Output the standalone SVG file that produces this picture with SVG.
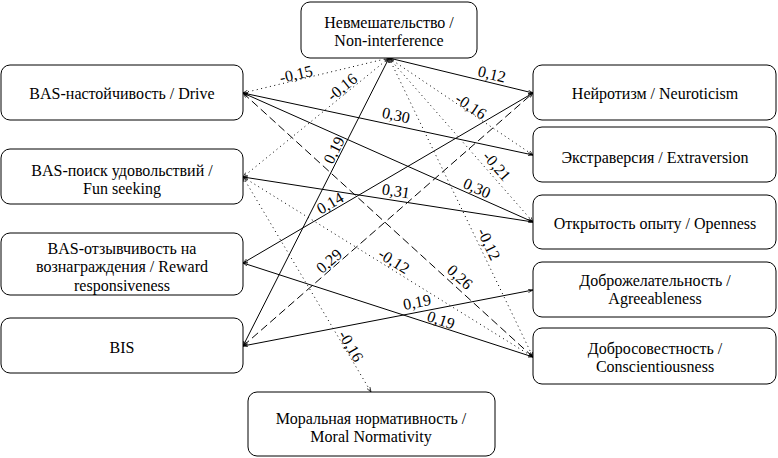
<svg xmlns="http://www.w3.org/2000/svg" width="778" height="458" viewBox="0 0 778 458">
<style>
.box{fill:#fff;stroke:#000;stroke-width:1}
.t{font-family:"Liberation Serif","Times New Roman","DejaVu Serif",serif;font-size:16px;fill:#000;text-anchor:middle}
.e{fill:none;stroke:#000;stroke-width:1;marker-start:url(#ah);marker-end:url(#ah)}
.dot{stroke-dasharray:1 3.5}
.dash{stroke-dasharray:8 4}
.lbl{font-family:"Liberation Serif","Times New Roman","DejaVu Serif",serif;font-size:16px;fill:#000;text-anchor:middle}
</style>
<defs>
<marker id="ah" viewBox="0 0 5 4" refX="5" refY="2" markerWidth="5" markerHeight="4" markerUnits="userSpaceOnUse" orient="auto-start-reverse">
<path d="M0,0.3 L5,2 L0,3.7" fill="none" stroke="#000" stroke-width="0.7"/>
</marker>
</defs>
<rect width="778" height="458" fill="#fff"/>
<g id="connectors">
<line class="e dot" x1="389" y1="58" x2="243" y2="93"/>
<line class="e dot" x1="389" y1="58" x2="243" y2="177"/>
<line class="e" x1="389" y1="58" x2="243" y2="346"/>
<line class="e" x1="389" y1="58" x2="533" y2="93"/>
<line class="e dot" x1="389" y1="58" x2="533" y2="155"/>
<line class="e dot" x1="389" y1="58" x2="533" y2="222"/>
<line class="e dot" x1="389" y1="58" x2="533" y2="357"/>
<line class="e" x1="243" y1="93" x2="533" y2="155"/>
<line class="e" x1="243" y1="93" x2="533" y2="222"/>
<line class="e dash" x1="243" y1="93" x2="533" y2="357"/>
<line class="e" x1="243" y1="177" x2="533" y2="222"/>
<line class="e dot" x1="243" y1="177" x2="533" y2="357"/>
<line class="e dot" x1="243" y1="177" x2="371" y2="392"/>
<line class="e" x1="243" y1="263" x2="533" y2="93"/>
<line class="e" x1="243" y1="263" x2="533" y2="357"/>
<line class="e dash" x1="243" y1="346" x2="533" y2="93"/>
<line class="e" x1="243" y1="346" x2="533" y2="290"/>
<g id="labels">
<text class="lbl" transform="translate(296,74) rotate(-13.1)" y="5.5">-0,15</text>
<text class="lbl" transform="translate(342,87) rotate(-38.9)" y="5.5">-0,16</text>
<text class="lbl" transform="translate(334,150) rotate(-63)" y="5.5">0,19</text>
<text class="lbl" transform="translate(492,74) rotate(13.4)" y="5.5">0,12</text>
<text class="lbl" transform="translate(471,106) rotate(33.9)" y="5.5">-0,16</text>
<text class="lbl" transform="translate(497,166) rotate(48.7)" y="5.5">-0,21</text>
<text class="lbl" transform="translate(489,244) rotate(64.4)" y="5.5">-0,12</text>
<text class="lbl" transform="translate(396,115) rotate(12.1)" y="5.5">0,30</text>
<text class="lbl" transform="translate(477,188) rotate(24)" y="5.5">0,30</text>
<text class="lbl" transform="translate(460,277) rotate(42.4)" y="5.5">0,26</text>
<text class="lbl" transform="translate(396,191) rotate(8.9)" y="5.5">0,31</text>
<text class="lbl" transform="translate(394,261) rotate(31.9)" y="5.5">-0,12</text>
<text class="lbl" transform="translate(351,346) rotate(59.7)" y="5.5">-0,16</text>
<text class="lbl" transform="translate(330,203) rotate(-30.3)" y="5.5">0,14</text>
<text class="lbl" transform="translate(441,320) rotate(18.2)" y="5.5">0,19</text>
<text class="lbl" transform="translate(329,261) rotate(-41.2)" y="5.5">0,29</text>
<text class="lbl" transform="translate(417,302) rotate(-11)" y="5.5">0,19</text>
</g>
</g>
<g id="n-noninterference">
<rect class="box" x="301" y="2" width="176" height="56" rx="9"/>
<text class="t" x="389" y="27.5">Невмешательство /</text>
<text class="t" x="389" y="46">Non-interference</text>
</g>
<g id="n-drive">
<rect class="box" x="1" y="65" width="242" height="55" rx="9"/>
<text class="t" x="122" y="98.5">BAS-настойчивость / Drive</text>
</g>
<g id="n-fun">
<rect class="box" x="1" y="149" width="242" height="55" rx="9"/>
<text class="t" x="122" y="175.5">BAS-поиск удовольствий /</text>
<text class="t" x="122" y="194">Fun seeking</text>
</g>
<g id="n-reward">
<rect class="box" x="1" y="233" width="242" height="62" rx="9"/>
<text class="t" x="122" y="253.5">BAS-отзывчивость на</text>
<text class="t" x="122" y="272">вознаграждения / Reward</text>
<text class="t" x="122" y="290.5">responsiveness</text>
</g>
<g id="n-bis">
<rect class="box" x="1" y="318" width="242" height="55" rx="9"/>
<text class="t" x="122" y="352.5">BIS</text>
</g>
<g id="n-neuroticism">
<rect class="box" x="533" y="65" width="243" height="55" rx="9"/>
<text class="t" x="655" y="98.5">Нейротизм / Neuroticism</text>
</g>
<g id="n-extraversion">
<rect class="box" x="533" y="127" width="243" height="55" rx="9"/>
<text class="t" x="655" y="162.5">Экстраверсия / Extraversion</text>
</g>
<g id="n-openness">
<rect class="box" x="533" y="195" width="243" height="54" rx="9"/>
<text class="t" x="655" y="228.5">Открытость опыту / Openness</text>
</g>
<g id="n-agreeableness">
<rect class="box" x="533" y="262" width="243" height="55" rx="9"/>
<text class="t" x="655" y="285.5">Доброжелательность /</text>
<text class="t" x="655" y="304">Agreeableness</text>
</g>
<g id="n-conscientiousness">
<rect class="box" x="533" y="328" width="243" height="56" rx="9"/>
<text class="t" x="655" y="353.5">Добросовестность /</text>
<text class="t" x="655" y="372">Conscientiousness</text>
</g>
<g id="n-moral">
<rect class="box" x="248" y="392" width="247" height="64" rx="9"/>
<text class="t" x="371" y="423.5">Моральная нормативность /</text>
<text class="t" x="371" y="442">Moral Normativity</text>
</g>
</svg>
